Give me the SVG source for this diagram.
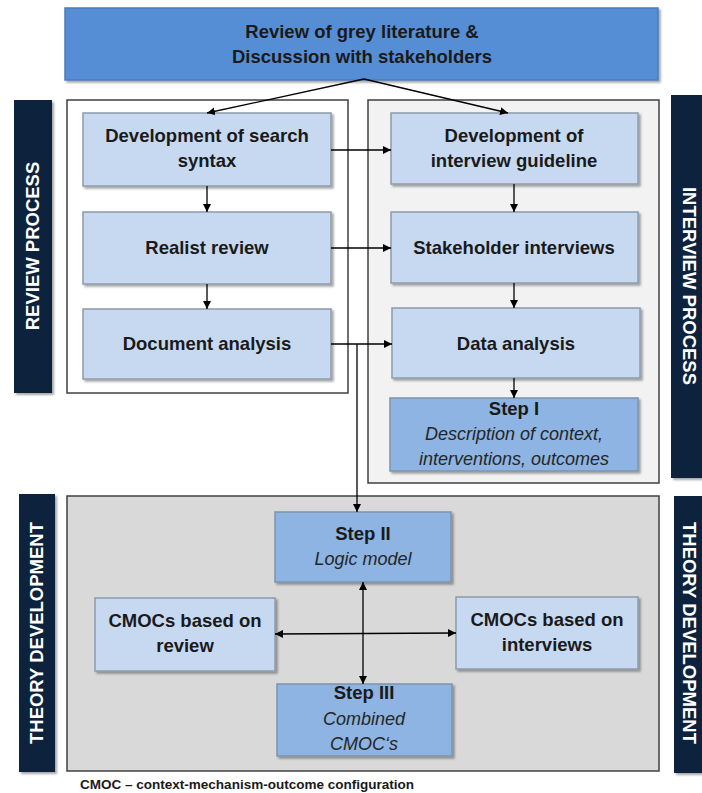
<svg xmlns="http://www.w3.org/2000/svg" width="702" height="793" viewBox="0 0 702 793">
<defs>
<marker id="ah" viewBox="0 0 10 10" refX="10" refY="5" markerWidth="8" markerHeight="8" markerUnits="userSpaceOnUse" orient="auto-start-reverse">
<path d="M0,0 L10,5 L0,10 z" fill="#000"/>
</marker>
<filter id="sh" x="-10%" y="-10%" width="130%" height="140%">
<feDropShadow dx="2" dy="2" stdDeviation="1.2" flood-color="#000" flood-opacity="0.35"/>
</filter>
</defs>
<style>
.lt{fill:#C6D9F1;stroke:#8C9AAB;stroke-width:1.5;filter:url(#sh)}
.md{fill:#8DB4E2;stroke:#7F93AB;stroke-width:1.5;filter:url(#sh)}
.bar{fill:#10243E;filter:url(#sh)}
.lbl{font-family:"Liberation Sans",Arial,sans-serif;font-weight:bold;font-size:18.5px;fill:#1A1A1A;text-anchor:middle}
.it{font-family:"Liberation Sans",Arial,sans-serif;font-style:italic;font-size:18px;fill:#262626;text-anchor:middle}
.side{font-family:"Liberation Sans",Arial,sans-serif;font-weight:bold;font-size:18.5px;fill:#FFFFFF;text-anchor:middle}
.cn{fill:none;stroke:#000;stroke-width:1.3}
</style>

<g id="containers">
<rect x="67" y="100" width="281" height="293" fill="#FFFFFF" stroke="#404040" stroke-width="1.5"/>
<rect x="368" y="100" width="291" height="383" fill="#F2F2F2" stroke="#404040" stroke-width="1.5"/>
<rect x="67" y="496" width="592" height="275" fill="#D9D9D9" stroke="#404040" stroke-width="1.5"/>
</g>

<g id="side-review">
<rect class="bar" x="14" y="100" width="38" height="293"/>
<text class="side" transform="translate(39,246) rotate(-90)">REVIEW PROCESS</text>
</g>
<g id="side-interview">
<rect class="bar" x="671" y="95" width="31" height="383"/>
<text class="side" transform="translate(683,286) rotate(90)">INTERVIEW PROCESS</text>
</g>
<g id="side-theory-left">
<rect class="bar" x="19" y="494" width="36" height="278"/>
<text class="side" transform="translate(43,633) rotate(-90)">THEORY DEVELOPMENT</text>
</g>
<g id="side-theory-right">
<rect class="bar" x="674" y="496" width="28" height="277"/>
<text class="side" transform="translate(683,633) rotate(90)">THEORY DEVELOPMENT</text>
</g>

<g id="top">
<rect x="65" y="8" width="593" height="72" fill="#558ED5" stroke="#4A7EBB" stroke-width="1.5" filter="url(#sh)"/>
<text class="lbl" x="362" y="38">Review of grey literature &amp;</text>
<text class="lbl" x="362" y="63">Discussion with stakeholders</text>
</g>

<g id="search-syntax">
<rect class="lt" x="83" y="113" width="248" height="73"/>
<text class="lbl" x="207" y="142">Development of search</text>
<text class="lbl" x="207" y="167">syntax</text>
</g>
<g id="realist-review">
<rect class="lt" x="83" y="212" width="248" height="72"/>
<text class="lbl" x="207" y="254">Realist review</text>
</g>
<g id="document-analysis">
<rect class="lt" x="83" y="309" width="248" height="70"/>
<text class="lbl" x="207" y="350">Document analysis</text>
</g>

<g id="interview-guideline">
<rect class="lt" x="391" y="113" width="247" height="71"/>
<text class="lbl" x="514" y="142">Development of</text>
<text class="lbl" x="514" y="167">interview guideline</text>
</g>
<g id="stakeholder-interviews">
<rect class="lt" x="391" y="212" width="247" height="71"/>
<text class="lbl" x="514" y="254">Stakeholder interviews</text>
</g>
<g id="data-analysis">
<rect class="lt" x="392" y="308" width="248" height="70"/>
<text class="lbl" x="516" y="350">Data analysis</text>
</g>
<g id="step1">
<rect class="md" x="390" y="398" width="248" height="73"/>
<text class="lbl" x="514" y="415">Step I</text>
<text class="it" x="514" y="440">Description of context,</text>
<text class="it" x="514" y="465">interventions, outcomes</text>
</g>

<g id="step2">
<rect class="md" x="275" y="512" width="176" height="70"/>
<text class="lbl" x="363" y="540">Step II</text>
<text class="it" x="363" y="565">Logic model</text>
</g>
<g id="cmocs-review">
<rect class="lt" x="95" y="598" width="180" height="73"/>
<text class="lbl" x="185" y="627">CMOCs based on</text>
<text class="lbl" x="185" y="652">review</text>
</g>
<g id="cmocs-interviews">
<rect class="lt" x="456" y="597" width="182" height="72"/>
<text class="lbl" x="547" y="626">CMOCs based on</text>
<text class="lbl" x="547" y="651">interviews</text>
</g>
<g id="step3">
<rect class="md" x="277" y="684" width="175" height="72"/>
<text class="lbl" x="364" y="699">Step III</text>
<text class="it" x="364" y="725">Combined</text>
<text class="it" x="364" y="750">CMOC‘s</text>
</g>

<g id="connectors">
<path class="cn" d="M364,79 L207,113" marker-end="url(#ah)"/>
<path class="cn" d="M364,79 L508,113" marker-end="url(#ah)"/>
<path class="cn" d="M207,186 L207,212" marker-end="url(#ah)"/>
<path class="cn" d="M207,284 L207,309" marker-end="url(#ah)"/>
<path class="cn" d="M331,150 L391,150" marker-end="url(#ah)"/>
<path class="cn" d="M331,248 L391,248" marker-end="url(#ah)"/>
<path class="cn" d="M331,344 L392,344" marker-end="url(#ah)"/>
<path class="cn" d="M357,344 L357,512" marker-end="url(#ah)"/>
<path class="cn" d="M514,184 L514,212" marker-end="url(#ah)"/>
<path class="cn" d="M514,283 L514,308" marker-end="url(#ah)"/>
<path class="cn" d="M514,378 L514,398" marker-end="url(#ah)"/>
<path class="cn" d="M363,582 L363,684" marker-start="url(#ah)" marker-end="url(#ah)"/>
<path class="cn" d="M275,634 L456,633" marker-start="url(#ah)" marker-end="url(#ah)"/>
</g>

<text x="80" y="789" font-family="'Liberation Sans',Arial,sans-serif" font-weight="bold" font-size="12.5" fill="#1A1A1A" textLength="334" lengthAdjust="spacingAndGlyphs">CMOC – context-mechanism-outcome configuration</text>
</svg>
